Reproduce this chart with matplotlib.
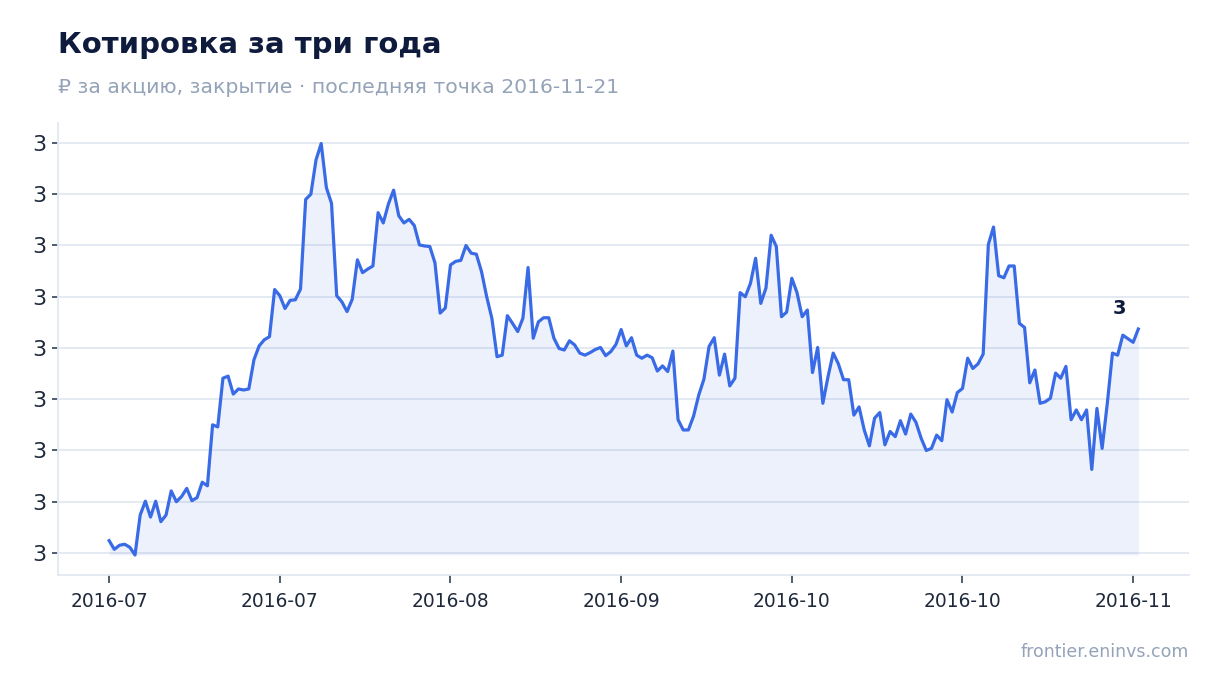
import matplotlib
matplotlib.use("Agg")
import matplotlib.pyplot as plt
import numpy as np

# Цены закрытия (200 точек)
prices = [
    2.624, 2.607, 2.615, 2.617, 2.611, 2.596, 2.674, 2.701, 2.670, 2.701,
    2.661, 2.674, 2.721, 2.700, 2.710, 2.726, 2.702, 2.708, 2.738, 2.731,
    2.850, 2.846, 2.941, 2.945, 2.910, 2.920, 2.918, 2.920, 2.977, 3.004,
    3.016, 3.022, 3.114, 3.102, 3.077, 3.093, 3.094, 3.115, 3.290, 3.300,
    3.367, 3.399, 3.313, 3.282, 3.102, 3.090, 3.071, 3.095, 3.172, 3.147,
    3.154, 3.160, 3.264, 3.244, 3.281, 3.308, 3.258, 3.244, 3.251, 3.239,
    3.201, 3.199, 3.198, 3.166, 3.068, 3.078, 3.162, 3.169, 3.171, 3.200,
    3.185, 3.183, 3.149, 3.100, 3.058, 2.983, 2.986, 3.063, 3.048, 3.032,
    3.058, 3.157, 3.019, 3.051, 3.059, 3.059, 3.019, 2.999, 2.996, 3.014,
    3.006, 2.990, 2.986, 2.991, 2.997, 3.001, 2.985, 2.993, 3.007, 3.036,
    3.004, 3.020, 2.986, 2.980, 2.986, 2.981, 2.955, 2.965, 2.954, 2.994,
    2.860, 2.840, 2.840, 2.867, 2.908, 2.939, 3.003, 3.020, 2.947, 2.988,
    2.926, 2.941, 3.108, 3.100, 3.126, 3.175, 3.087, 3.117, 3.220, 3.198,
    3.061, 3.070, 3.136, 3.108, 3.061, 3.074, 2.952, 3.001, 2.892, 2.944,
    2.990, 2.969, 2.938, 2.938, 2.869, 2.885, 2.840, 2.809, 2.863, 2.874,
    2.811, 2.837, 2.827, 2.858, 2.832, 2.871, 2.855, 2.824, 2.800, 2.804,
    2.830, 2.819, 2.899, 2.875, 2.913, 2.921, 2.980, 2.960, 2.969, 2.988,
    3.202, 3.236, 3.141, 3.137, 3.160, 3.160, 3.048, 3.040, 2.932, 2.957,
    2.892, 2.895, 2.902, 2.951, 2.941, 2.964, 2.860, 2.879, 2.860, 2.879,
    2.763, 2.882, 2.804, 2.892, 2.990, 2.986, 3.025, 3.018, 3.011, 3.037,
]
x_tick_labels = ["2016-07", "2016-07", "2016-08", "2016-09",
                 "2016-10", "2016-10", "2016-11"]
y_ticks = [2.6, 2.7, 2.8, 2.9, 3.0, 3.1, 3.2, 3.3, 3.4]

LINE = "#3a6be6"
NAVY = "#0f1b3d"
MUTED = "#94a3b8"
GRID = "#e2e8f0"

y = np.array(prices)
x = np.arange(len(y))

fig = plt.figure(figsize=(12.2, 6.93), dpi=100)
ax = fig.add_axes([0.0475, 0.1703, 0.9271, 0.6522])

ax.fill_between(x, y, y.min(), color=LINE, alpha=0.09, linewidth=0)
ax.plot(x, y, color=LINE, linewidth=2.3, solid_joinstyle="round", zorder=3)

ax.set_xlim(-9.9, 208.8)
ax.set_ylim(2.557, 3.439)

ax.set_yticks(y_ticks)
ax.set_yticklabels(["{:.0f}".format(v) for v in y_ticks])
ax.set_xticks(np.arange(0, len(y), 33))
ax.set_xticklabels(x_tick_labels)

ax.grid(axis="y", color=GRID, linewidth=1.3)
ax.set_axisbelow(True)
for side in ["top", "right"]:
    ax.spines[side].set_visible(False)
for side in ["left", "bottom"]:
    ax.spines[side].set_color(GRID)
    ax.spines[side].set_linewidth(1.3)

ax.tick_params(axis="y", length=4, width=1.2, color="#334155",
               labelsize=16, labelcolor="#1e293b", pad=4)
ax.tick_params(axis="x", length=6, width=1.2, color="#334155",
               labelsize=13.4, labelcolor="#1e293b", pad=6)

# подпись последней точки
ax.annotate("{:.0f}".format(y[-1]), (x[-1], y[-1]), xytext=(-13.5, 15),
            textcoords="offset points", ha="center", va="center",
            fontsize=14, fontweight="bold", color=NAVY)

fig.text(0.0475, 0.923, "Котировка за три года", fontsize=21,
         fontweight="bold", color=NAVY, ha="left", va="baseline")
fig.text(0.0475, 0.866, "₽ за акцию, закрытие · последняя точка 2016-11-21",
         fontsize=14.7, color=MUTED, ha="left", va="baseline")
fig.text(0.9746, 0.052, "frontier.eninvs.com", fontsize=12.5,
         color=MUTED, ha="right", va="baseline")

fig.savefig("out.png", dpi=100)
